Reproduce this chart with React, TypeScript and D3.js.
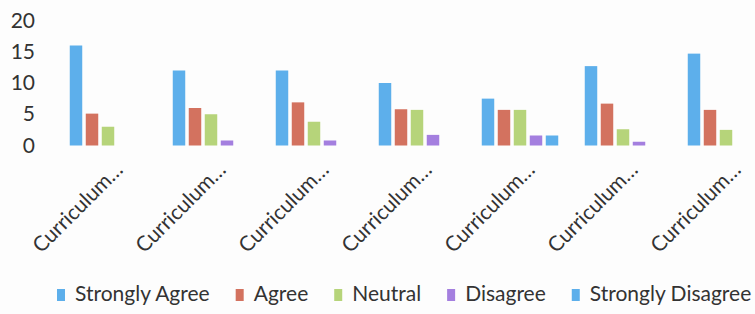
import React, { useRef, useEffect } from 'react';
import * as d3 from 'd3';

const categories = ['Curriculum…', 'Curriculum…', 'Curriculum…', 'Curriculum…', 'Curriculum…', 'Curriculum…', 'Curriculum…'];
const seriesNames = ['Strongly Agree', 'Agree', 'Neutral', 'Disagree', 'Strongly Disagree'];
const stronglyAgree = [16, 12, 12, 10, 7.5, 12.7, 14.7];
const agree = [5.1, 6, 6.9, 5.8, 5.7, 6.7, 5.7];
const neutral = [3, 5, 3.8, 5.7, 5.7, 2.6, 2.5];
const disagree = [0, 0.8, 0.8, 1.7, 1.6, 0.6, 0];
const stronglyDisagree = [0, 0, 0, 0, 1.6, 0, 0];
const yTicks = [0, 5, 10, 15, 20];

const colors = ['#5dafeb', '#d3725f', '#b6d47a', '#a47fdf', '#5dafeb'];

const App: React.FC = () => {
  const svgRef = useRef<SVGSVGElement>(null);

  useEffect(() => {
    if (!svgRef.current) return;
    const width = 755;
    const height = 314;
    const font = 'Lato, "Open Sans", sans-serif';
    const textColor = '#333333';

    const svg = d3.select(svgRef.current)
      .attr('width', width)
      .attr('height', height)
      .style('background-color', '#fdfdfd');
    svg.selectAll('*').remove();

    const values = [stronglyAgree, agree, neutral, disagree, stronglyDisagree];

    const x = d3.scaleBand<number>()
      .domain(categories.map((_, i) => i))
      .range([56.5, 777.5]);
    const inner = d3.scaleBand<number>()
      .domain(seriesNames.map((_, i) => i))
      .range([0, 80])
      .paddingInner(0.22)
      .paddingOuter(0.11);
    const y = d3.scaleLinear().domain([0, 20]).range([145.5, 20.5]);

    // y axis labels only
    const yAxis = svg.append('g')
      .attr('transform', 'translate(35,0)')
      .call(d3.axisLeft(y).tickValues(yTicks).tickSize(0).tickPadding(0));
    yAxis.select('.domain').remove();
    yAxis.selectAll('text')
      .style('font-family', font)
      .style('font-size', '21px')
      .style('fill', textColor);

    // bars
    const groups = svg.append('g')
      .selectAll('g')
      .data(categories.map((_, i) => i))
      .join('g')
      .attr('transform', d => `translate(${x(d)! + (x.bandwidth() - 80) / 2},0)`);

    groups.selectAll('rect')
      .data(ci => values.map((s, si) => ({ si, v: s[ci] })))
      .join('rect')
      .filter(d => d.v > 0)
      .attr('x', d => inner(d.si)!)
      .attr('width', inner.bandwidth())
      .attr('y', d => y(d.v))
      .attr('height', d => y(0) - y(d.v))
      .attr('fill', d => colors[d.si]);

    // category labels, rotated
    svg.append('g')
      .selectAll('text')
      .data(categories)
      .join('text')
      .attr('transform', (_, i) => `translate(${x(i)! + x.bandwidth() / 2 + 5},${160}) rotate(-45)`)
      .attr('text-anchor', 'end')
      .attr('dy', '0.75em')
      .style('font-family', font)
      .style('font-size', '21px')
      .style('fill', textColor)
      .text(d => d);

    // legend
    const legend = svg.append('g').attr('transform', 'translate(57,289)');
    let lx = 0;
    seriesNames.forEach((name, i) => {
      const item = legend.append('g').attr('transform', `translate(${lx},0)`);
      item.append('rect')
        .attr('width', 8)
        .attr('height', 12)
        .attr('fill', colors[i]);
      const t = item.append('text')
        .attr('x', 18)
        .attr('y', 12)
        .style('font-family', font)
        .style('font-size', '21px')
        .style('fill', textColor)
        .text(name);
      const w = (t.node() as SVGTextElement).getComputedTextLength();
      lx += 18 + w + 26;
    });
  }, []);

  return (
    <svg ref={svgRef} style={{ position: 'absolute', left: 0, top: 0 }}></svg>
  );
};

export default App;
